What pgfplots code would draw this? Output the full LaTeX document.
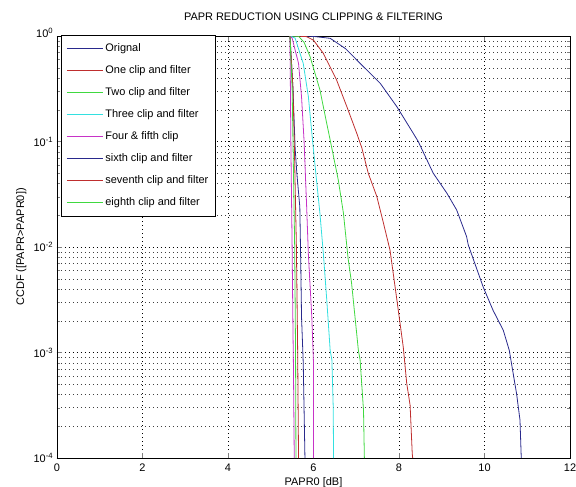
\documentclass[border=0pt]{standalone}
\usepackage{fontspec}
\setmainfont{Liberation Sans}
\usepackage{pgfplots}
\pgfplotsset{compat=1.18}
\definecolor{cnavy}{rgb}{0.16,0.16,0.55}
\definecolor{cred}{rgb}{0.75,0.18,0.18}
\definecolor{cgreen}{rgb}{0.25,0.85,0.25}
\definecolor{ccyan}{rgb}{0.20,0.88,0.88}
\definecolor{cmag}{rgb}{0.78,0.20,0.78}
\begin{document}
\fontsize{11}{13}\selectfont
\begin{tikzpicture}
\begin{axis}[
  scale only axis, width=513bp, height=422bp,
  at={(0,0)}, anchor=south west,
  xmin=0, xmax=12, ymin=1e-4, ymax=1, ymode=log,
  xtick={0,2,4,6,8,10,12},
  ytick={1e-4,1e-3,1e-2,1e-1,1},
  yticklabels={10\textsuperscript{-4},10\textsuperscript{-3},10\textsuperscript{-2},10\textsuperscript{-1},\raisebox{6bp}{10\textsuperscript{0}}},
  /pgf/number format/assume math mode=true,
  tick label style={font=\fontsize{11}{13}\selectfont},
  xticklabel style={yshift=-2bp},
  xmajorgrids, ymajorgrids, yminorgrids,
  major grid style={black, line width=0.5pt, dash pattern=on 1bp off 3bp},
  minor grid style={black!75, line width=0.45pt, dash pattern=on 1bp off 3bp},
  axis line style={line width=0.6pt},
  tick align=inside, major tick length=5bp, minor tick length=3bp,
  title={PAPR REDUCTION USING CLIPPING \& FILTERING},
  title style={at={(axis description cs:0.5,1.0237)}, anchor=base, inner sep=0pt, font=\fontsize{11}{13}\selectfont},
  xlabel={PAPR0 [dB]},
  xlabel style={at={(axis description cs:0.5,-0.064)}, anchor=base, inner sep=0pt, font=\fontsize{11}{13}\selectfont},
  ylabel={CCDF ([PAPR>PAPR0])},
  ylabel style={at={(axis description cs:-0.0643,0.5)}, anchor=base, inner sep=0pt, font=\fontsize{11}{13}\selectfont},
  legend style={at={(axis description cs:0.0078,1.002)}, anchor=north west,
    draw=black, fill=white, font=\fontsize{11}{13}\selectfont,
    row sep=7.5bp, inner xsep=5bp, inner ysep=6bp,
    nodes={inner xsep=2bp, inner ysep=2bp, text height=8bp, text depth=2.5bp}},
  legend cell align=left,
  legend image code/.code={\draw[#1] (0bp,0bp) -- (36bp,0bp);},
  legend image post style={line width=1.2pt},
  every axis plot/.append style={line width=0.8pt},
]
% Original
\addplot[cnavy] coordinates {
(5.45,1) (5.8,0.9977) (6.0,0.9908) (6.39,0.9506) (6.75,0.7586) (7.09,0.5508)
(7.56,0.3565) (7.95,0.2138) (8.33,0.1202) (8.45,0.1) (8.80,0.0501) (9.12,0.03236)
(9.35,0.02239) (9.58,0.01259) (9.62,0.01047) (9.97,0.004169) (10.2,0.002512)
(10.44,0.001622) (10.58,0.001047) (10.75,0.0004074) (10.83,0.0002291) (10.86,0.0001)
};
\addlegendentry{Orignal}
% One clip
\addplot[cred] coordinates {
(5.45,1) (5.6,0.9977) (5.84,0.986) (6.0,0.912) (6.23,0.6855) (6.54,0.3828)
(6.78,0.2138) (7.01,0.1202) (7.13,0.0871) (7.28,0.0501) (7.48,0.0302) (7.64,0.0166)
(7.79,0.00933) (7.95,0.003162) (8.10,0.001122) (8.18,0.000513) (8.26,0.000316)
(8.31,0.0001096) (8.32,0.0001)
};
\addlegendentry{One clip and filter}
% Two clip
\addplot[cgreen] coordinates {
(5.45,1) (5.65,0.9931) (5.78,0.871) (5.92,0.637) (6.15,0.309) (6.31,0.148)
(6.39,0.1033) (6.58,0.04315) (6.70,0.02089) (6.81,0.00776) (6.89,0.00457)
(6.97,0.002188) (7.05,0.001047) (7.09,0.000851) (7.17,0.000282) (7.19,0.0001)
};
\addlegendentry{Two clip and filter}
% Three clip
\addplot[ccyan] coordinates {
(5.45,1) (5.57,0.955) (5.76,0.5495) (5.88,0.2661) (5.98,0.1) (6.07,0.04315)
(6.15,0.02089) (6.23,0.00871) (6.31,0.003162) (6.39,0.001047) (6.43,0.000851)
(6.46,0.000316) (6.47,0.0001)
};
\addlegendentry{Three clip and filter}
% Four clip
\addplot[cmag] coordinates {
(5.45,1) (5.5,0.955) (5.65,0.5495) (5.72,0.2661) (5.78,0.1) (5.84,0.02399)
(5.88,0.00851) (5.96,0.002188) (6.00,0.000794) (6.00,0.0001)
};
\addlegendentry{Four \& fifth clip}
% Fifth clip (same legend entry)
\addplot[cmag, forget plot] coordinates {
(5.45,1) (5.46,0.3162) (5.47,0.1) (5.50,0.01) (5.52,0.001585) (5.53,0.000794) (5.55,0.0001)
};
% Sixth
\addplot[cnavy] coordinates {
(5.45,1) (5.52,0.3162) (5.57,0.0871) (5.61,0.0501) (5.68,0.02399) (5.70,0.00776)
(5.72,0.002188) (5.76,0.000794) (5.80,0.0001)
};
\addlegendentry{sixth clip and filter}
% Seventh
\addplot[cred] coordinates {
(5.45,1) (5.52,0.3162) (5.55,0.1) (5.60,0.01) (5.63,0.001) (5.65,0.0001)
};
\addlegendentry{seventh clip and filter}
% Eighth
\addplot[cgreen] coordinates {
(5.45,1) (5.50,0.3162) (5.52,0.1) (5.56,0.01) (5.58,0.001) (5.59,0.0001)
};
\addlegendentry{eighth clip and filter}
\end{axis}
\pgfresetboundingbox
\path (-57bp,-29bp) rectangle (519bp,458bp);
\end{tikzpicture}
\end{document}
